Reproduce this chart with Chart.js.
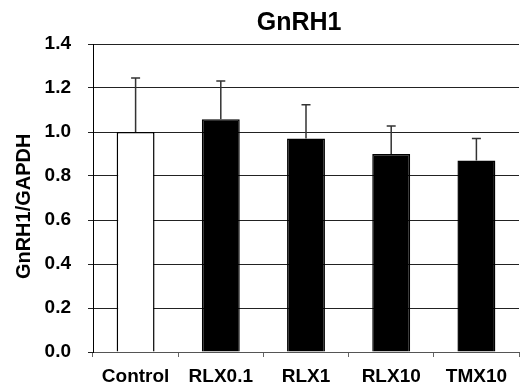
<!DOCTYPE html>
<html>
<head>
<meta charset="utf-8">
<script src="https://cdn.jsdelivr.net/npm/chart.js@4"></script>
<style>
  body { margin: 0; background: #fff; }
  #wrap { width: 522px; height: 390px; }
</style>
</head>
<body>
<div id="wrap"><canvas id="chart"></canvas></div>
<script>
// GnRH1 expression, normalised to GAPDH
const groups = ['Control', 'RLX0.1', 'RLX1', 'RLX10', 'TMX10'];
const means = [1.0, 1.058, 0.971, 0.9, 0.871];
const errUp = [0.245, 0.174, 0.153, 0.127, 0.1];
const barColors = ['#ffffff', '#000000', '#000000', '#000000', '#000000'];
const yTicks = [0, 0.2, 0.4, 0.6, 0.8, 1.0, 1.2, 1.4];

const font = 'Liberation Sans, Arial, sans-serif';

// draws the upward error bars from the bar tops
const errorBars = {
  id: 'errorBars',
  afterDatasetsDraw(chart) {
    const ctx = chart.ctx;
    const y = chart.scales.y;
    const meta = chart.getDatasetMeta(0);
    ctx.save();
    ctx.strokeStyle = '#333';
    ctx.lineWidth = 1.5;
    meta.data.forEach((bar, i) => {
      const yTop = y.getPixelForValue(means[i] + errUp[i]);
      const yBar = y.getPixelForValue(means[i]);
      ctx.beginPath();
      ctx.moveTo(bar.x, yBar);
      ctx.lineTo(bar.x, yTop);
      ctx.moveTo(bar.x - 4.5, yTop);
      ctx.lineTo(bar.x + 4.5, yTop);
      ctx.stroke();
    });
    ctx.restore();
  }
};

new Chart(document.getElementById('chart'), {
  type: 'bar',
  data: {
    labels: groups,
    datasets: [{
      data: means,
      backgroundColor: barColors,
      borderColor: '#000',
      borderWidth: 1.5,
      categoryPercentage: 1,
      barPercentage: 0.445
    }]
  },
  options: {
    responsive: true,
    maintainAspectRatio: false,
    animation: false,
    layout: { padding: { left: 0, right: 3, top: 0, bottom: 0 } },
    plugins: {
      legend: { display: false },
      tooltip: { enabled: false },
      title: {
        display: true,
        text: 'GnRH1  ',
        fullSize: false,
        color: '#000',
        font: { family: font, size: 25, weight: 'bold', lineHeight: 1.2 },
        padding: { top: 8, bottom: 6 }
      }
    },
    scales: {
      x: {
        grid: {
          offset: true,
          drawOnChartArea: false,
          drawTicks: true,
          tickLength: 5,
          color: '#666'
        },
        border: { color: '#555', width: 1 },
        ticks: {
          color: '#000',
          padding: 8,
          font: { family: font, size: 19, weight: 'bold' }
        },
        afterFit(scale) { scale.height = 38; }
      },
      y: {
        min: 0,
        max: 1.4,
        afterBuildTicks(scale) { scale.ticks = yTicks.map(v => ({ value: v })); },
        grid: { color: '#222', lineWidth: 1, tickLength: 5 },
        border: { color: '#000', width: 1 },
        ticks: {
          color: '#000',
          padding: 17,
          font: { family: font, size: 19, weight: 'bold' },
          callback: v => v.toFixed(1)
        },
        title: {
          display: true,
          text: 'GnRH1/GAPDH   ',
          color: '#000',
          font: { family: font, size: 20, weight: 'bold', lineHeight: 1.2 },
          padding: { top: 12, bottom: 0 }
        },
        afterFit(scale) { scale.width = 93; }
      }
    }
  },
  plugins: [errorBars]
});
</script>
</body>
</html>
